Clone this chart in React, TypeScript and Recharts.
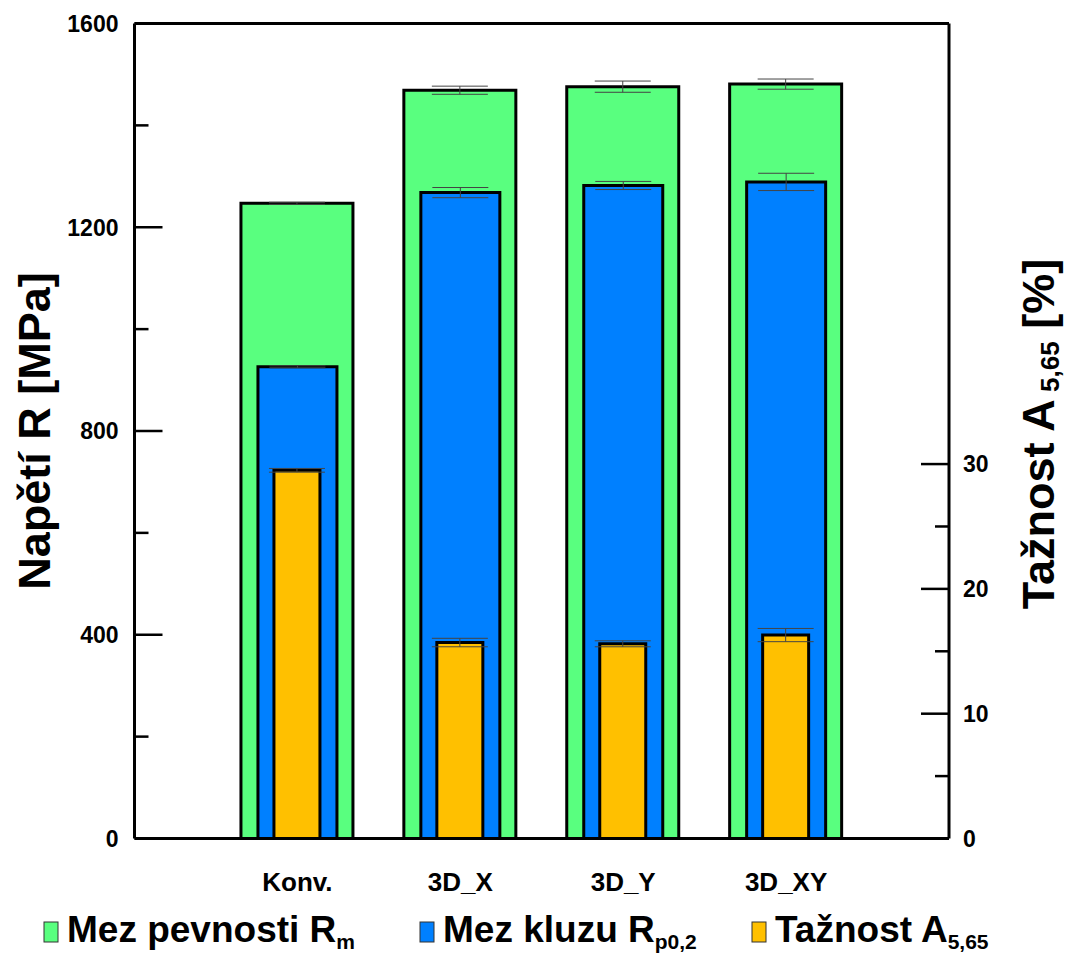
import React from "react";
import { ComposedChart, Bar, XAxis, YAxis, ErrorBar, ReferenceLine, Legend } from "recharts";

const categories = ["Konv.", "3D_X", "3D_Y", "3D_XY"];
const positions = [1, 2, 3, 4];
const pevnost = [1247, 1469, 1476, 1481];
const pevnostErr = [2, 8, 11, 10];
const kluz = [926, 1268, 1282, 1289];
const kluzErr = [2, 10, 8, 17];
const taznost = [29.5, 15.7, 15.6, 16.3];
const taznostErr = [0.15, 0.34, 0.24, 0.53];
const leftTicks = [0, 200, 400, 600, 800, 1000, 1200, 1400, 1600];
const rightTicks = [0, 5, 10, 15, 20, 25, 30];

const GREEN = "#59FF7F";
const BLUE = "#0080FF";
const ORANGE = "#FFC000";
const FONT = "'Liberation Sans', Arial, sans-serif";

const data = categories.map((name, i) => ({
  pos: positions[i],
  name,
  rm: pevnost[i],
  rmErr: pevnostErr[i],
  rp: kluz[i],
  rpErr: kluzErr[i],
  a: taznost[i],
  aErr: taznostErr[i],
}));

const LeftTick = (props: any) => {
  const { x, y, payload } = props;
  const axisX = x + 16;
  const major = payload.value % 400 === 0;
  return (
    <g>
      <line x1={axisX} x2={axisX + (major ? 28 : 14)} y1={y} y2={y} stroke="#000" strokeWidth={2.5} />
      {major && (
        <text x={x} y={y} dy="0.36em" textAnchor="end" fontSize={23} fontWeight="bold" fontFamily={FONT} fill="#000">
          {payload.value}
        </text>
      )}
    </g>
  );
};

const RightTick = (props: any) => {
  const { x, y, payload } = props;
  const axisX = x - 14;
  const major = payload.value % 10 === 0;
  return (
    <g>
      <line x1={axisX} x2={axisX - (major ? 28 : 14)} y1={y} y2={y} stroke="#000" strokeWidth={2.5} />
      {major && (
        <text x={x} y={y} dy="0.36em" textAnchor="start" fontSize={23} fontWeight="bold" fontFamily={FONT} fill="#000">
          {payload.value}
        </text>
      )}
    </g>
  );
};

const LeftTitle = () => (
  <text
    transform="translate(50, 431) rotate(-90)"
    textAnchor="middle"
    fontSize={45}
    fontWeight="bold"
    fontFamily={FONT}
    fill="#000"
  >
    Napětí R [MPa]
  </text>
);

const RightTitle = () => (
  <text
    transform="translate(1054, 434) rotate(-90)"
    textAnchor="middle"
    fontSize={45}
    fontWeight="bold"
    fontFamily={FONT}
    fill="#000"
  >
    Tažnost A
    <tspan fontSize={26} dy={5}> 5,65</tspan>
    <tspan dy={-5}> [%]</tspan>
  </text>
);

const legendItems = [
  { color: GREEN, label: "Mez pevnosti R", sub: "m", x: 44 },
  { color: BLUE, label: "Mez kluzu R", sub: "p0,2", x: 420 },
  { color: ORANGE, label: "Tažnost A", sub: "5,65", x: 752 },
];

const LegendContent = () => (
  <svg width={1065} height={52} style={{ display: "block" }}>
    {legendItems.map((it) => (
      <g key={it.label}>
        <rect x={it.x} y={19} width={14} height={20} fill={it.color} stroke="#333" strokeWidth={1} />
        <text x={it.x + 23} y={39} fontSize={37} fontWeight="bold" fontFamily={FONT} fill="#000">
          {it.label}
          <tspan fontSize={21} dy={7}>{it.sub}</tspan>
        </text>
      </g>
    ))}
  </svg>
);

export default function App() {
  return (
    <div style={{ position: "absolute", left: 0, top: 0, background: "#fff" }}>
      <ComposedChart width={1065} height={955} data={data} margin={{ top: 23.5, right: 0, bottom: 0, left: 0 }}>
        <XAxis
          xAxisId="g"
          type="number"
          dataKey="pos"
          domain={[0, 5]}
          ticks={positions}
          tickFormatter={(v: number) => categories[v - 1]}
          height={64.5}
          tickLine={false}
          tickSize={0}
          tickMargin={34}
          axisLine={{ stroke: "#000", strokeWidth: 3 }}
          tick={{ fontSize: 26, fontWeight: "bold", fontFamily: FONT, fill: "#000" }}
        />
        <XAxis xAxisId="b" orientation="top" type="number" dataKey="pos" domain={[0, 5]} hide />
        <XAxis xAxisId="o" orientation="top" type="number" dataKey="pos" domain={[0, 5]} hide />
        <YAxis
          yAxisId="l"
          domain={[0, 1600]}
          ticks={leftTicks}
          width={134.5}
          tickLine={false}
          tickSize={0}
          tickMargin={16}
          axisLine={{ stroke: "#000", strokeWidth: 3 }}
          tick={<LeftTick />}
          interval={0}
          label={<LeftTitle />}
        />
        <YAxis
          yAxisId="r"
          orientation="right"
          domain={[0, 65.3]}
          ticks={rightTicks}
          width={116}
          tickLine={false}
          tickSize={0}
          tickMargin={14}
          axisLine={{ stroke: "#000", strokeWidth: 3 }}
          tick={<RightTick />}
          interval={0}
          allowDataOverflow
          label={<RightTitle />}
        />
        <ReferenceLine xAxisId="g" yAxisId="l" y={1600} stroke="#000" strokeWidth={3} />
        <Bar xAxisId="g" yAxisId="l" dataKey="rm" name="Mez pevnosti Rm" barSize={112} fill={GREEN} stroke="#000" strokeWidth={3} isAnimationActive={false}>
          <ErrorBar dataKey="rmErr" width={28} stroke="#444" strokeWidth={1} isAnimationActive={false} />
        </Bar>
        <Bar xAxisId="b" yAxisId="l" dataKey="rp" name="Mez kluzu Rp0,2" barSize={79} fill={BLUE} stroke="#000" strokeWidth={3} isAnimationActive={false}>
          <ErrorBar dataKey="rpErr" width={28} stroke="#444" strokeWidth={1} isAnimationActive={false} />
        </Bar>
        <Bar xAxisId="o" yAxisId="r" dataKey="a" name="Tažnost A5,65" barSize={46} fill={ORANGE} stroke="#000" strokeWidth={3} isAnimationActive={false}>
          <ErrorBar dataKey="aErr" width={28} stroke="#444" strokeWidth={1} isAnimationActive={false} />
        </Bar>
        <Legend verticalAlign="bottom" align="left" height={52} wrapperStyle={{ height: 52 }} content={<LegendContent />} />
      </ComposedChart>
    </div>
  );
}
